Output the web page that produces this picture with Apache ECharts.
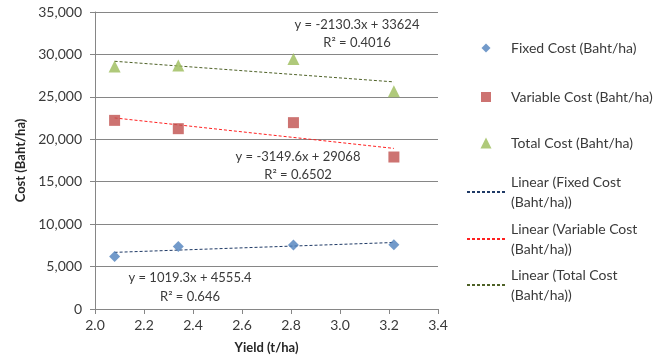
<!DOCTYPE html>
<html>
<head>
<meta charset="utf-8">
<script src="https://cdn.jsdelivr.net/npm/echarts@6/dist/echarts.min.js"></script>
<style>html,body{margin:0;padding:0;background:#fff}#c{width:658px;height:359px}</style>
</head>
<body>
<div id="c"></div>
<script>
// ---- data ----
var yields = [2.08, 2.34, 2.81, 3.22];
var fixedCost = [6200, 7380, 7540, 7580];
var variableCost = [22230, 21250, 21960, 17910];
var totalCost = [28590, 28710, 29460, 25650];
// trendline equations shown on the chart: y = slope * x + intercept
var trendSlopes = [1019.3, -3149.6, -2130.3];
var trendIntercepts = [4555.4, 29068, 33624];
var trendR2 = ['0.646', '0.6502', '0.4016'];
var seriesNames = ['Fixed Cost (Baht/ha)', 'Variable Cost (Baht/ha)', 'Total Cost (Baht/ha)'];
var trendNames = ['Linear (Fixed Cost (Baht/ha))', 'Linear (Variable Cost (Baht/ha))', 'Linear (Total Cost (Baht/ha))'];
var xTicks = [2.0, 2.2, 2.4, 2.6, 2.8, 3.0, 3.2, 3.4];
var yTicks = [0, 5000, 10000, 15000, 20000, 25000, 30000, 35000];

var FONT = 'Lato';
var markerColors = ['#4F81BD', '#C0504D', '#9BBB59'];
var markerSymbols = ['diamond', 'rect', 'triangle'];
var markerSizes = [[11, 11], [11, 11], [12, 12]];
var legendMarkerSizes = [9, 10, 11];
var trendColors = ['#1F3A66', '#FF2020', '#4F6228'];
var textColor = '#3a3a3a';

var allSeriesValues = [fixedCost, variableCost, totalCost];
var series = [];
allSeriesValues.forEach(function (vals, i) {
  series.push({
    name: seriesNames[i], type: 'scatter',
    symbol: markerSymbols[i], symbolSize: markerSizes[i],
    itemStyle: { color: markerColors[i] },
    data: yields.map(function (x, k) { return [x, vals[k]]; }),
    z: 5
  });
});
var xMin = Math.min.apply(null, yields), xMax = Math.max.apply(null, yields);
trendSlopes.forEach(function (s, i) {
  series.push({
    name: trendNames[i], type: 'line', symbol: 'none',
    lineStyle: { color: trendColors[i], width: 1, type: [3, 2] },
    itemStyle: { color: trendColors[i] },
    data: [[xMin, s * xMin + trendIntercepts[i]], [xMax, s * xMax + trendIntercepts[i]]],
    z: 4
  });
});

function eq(i) {
  var s = trendSlopes[i], b = trendIntercepts[i];
  return 'y = ' + s + 'x + ' + b;
}

var legendTextBase = { fontFamily: FONT, fontSize: 14, color: textColor, lineHeight: 20 };
var legends = [];
var markerTops = [38, 87, 133];
seriesNames.forEach(function (n, i) {
  var sz = legendMarkerSizes[i];
  legends.push({
    data: [n], left: 486 - sz / 2, top: markerTops[i], padding: 0, orient: 'vertical',
    itemWidth: sz, itemHeight: sz, selectedMode: false,
    textStyle: Object.assign({ padding: [0, 0, 0, 20 - sz / 2] }, legendTextBase)
  });
});
var lineTops = [162, 209, 255];
trendNames.forEach(function (n, i) {
  legends.push({
    data: [n], left: 466, top: lineTops[i], padding: 0, orient: 'vertical',
    itemWidth: 39, itemHeight: 10, selectedMode: false,
    itemStyle: { opacity: 0, color: 'rgba(0,0,0,0)', borderWidth: 0 },
    formatter: function (name) { return name.replace(' (Baht/ha))', '\n(Baht/ha))'); },
    textStyle: Object.assign({ padding: [20, 0, 0, 0] }, legendTextBase)
  });
});

var labelPos = [[190, 278, 297], [298, 157, 175], [357, 25, 43]];
var graphics = [];
labelPos.forEach(function (p, i) {
  graphics.push({ type: 'text', x: p[0], y: p[1], style: { text: eq(i), align: 'center', verticalAlign: 'middle', font: '13px ' + FONT, fill: textColor } });
  graphics.push({ type: 'text', x: p[0], y: p[2], style: { text: 'R\u00B2 = ' + trendR2[i], align: 'center', verticalAlign: 'middle', font: '13px ' + FONT, fill: textColor } });
});

var chart = echarts.init(document.getElementById('c'), null, { renderer: 'canvas' });
chart.setOption({
  animation: false,
  backgroundColor: '#fff',
  grid: { left: 95, right: 220, top: 12, bottom: 50 },
  legend: legends,
  xAxis: {
    type: 'value', min: xTicks[0], max: xTicks[xTicks.length - 1], interval: 0.2,
    name: 'Yield (t/ha)', nameLocation: 'middle', nameGap: 32,
    nameTextStyle: { fontFamily: FONT, fontSize: 13, fontWeight: 'bold', color: '#262626' },
    axisLine: { show: true, lineStyle: { color: '#868686' } },
    axisTick: { show: true, length: 5, lineStyle: { color: '#868686' } },
    axisLabel: { fontFamily: FONT, fontSize: 14, color: textColor, margin: 9, formatter: function (v) { return v.toFixed(1); } },
    splitLine: { show: false }
  },
  yAxis: {
    type: 'value', min: yTicks[0], max: yTicks[yTicks.length - 1], interval: 5000,
    name: 'Cost (Baht/ha)', nameLocation: 'middle', nameGap: 66, nameRotate: 90,
    nameTextStyle: { fontFamily: FONT, fontSize: 13, fontWeight: 'bold', color: '#262626' },
    axisLine: { show: true, lineStyle: { color: '#868686' } },
    axisTick: { show: true, length: 5, lineStyle: { color: '#868686' } },
    axisLabel: { fontFamily: FONT, fontSize: 14, color: textColor, margin: 13, formatter: function (v) { return v.toLocaleString('en-US'); } },
    splitLine: { show: true, lineStyle: { color: '#868686', width: 1 } }
  },
  graphic: graphics,
  series: series
});
</script>
</body>
</html>
